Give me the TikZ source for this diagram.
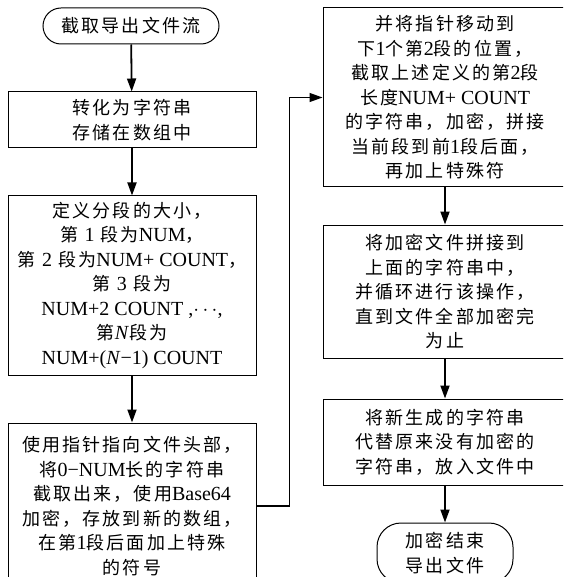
\documentclass[tikz,border=0pt]{standalone}
\usepackage{fontspec}
\setmainfont{Liberation Serif}
\newfontfamily\cjk[LetterSpace=12]{Noto Sans CJK SC}
\newcommand\E[1]{{\rmfamily\fontsize{20}{24.5}\selectfont #1}}
\usetikzlibrary{arrows.meta}
\tikzset{
  txt/.style={font=\fontsize{18}{24.5}\selectfont\cjk, align=center, inner sep=0pt},
  procbox/.style={txt, draw, line width=1pt, rectangle},
  termbox/.style={txt, draw, line width=1pt, rectangle},
  flow/.style={line width=1.8pt, -{Triangle[length=13pt,width=9pt]}},
}
\begin{document}
\begin{tikzpicture}[x=1pt,y=-1pt]
\useasboundingbox (0,0) rectangle (563,577);
\clip (0,0) rectangle (563,577);
% left column
\node[termbox, rounded corners=18pt, minimum width=176pt, minimum height=36pt] (s) at (131,26) {截取导出文件流};
\node[procbox, minimum width=248pt, minimum height=56pt] (b2) at (132,120) {转化为字符串\\存储在数组中};
\node[procbox, minimum width=248pt, minimum height=179pt] (b3) at (132,285.5) {定义分段的大小，\\第 \E{1} 段为\E{NUM}，\\第 \E{2} 段为\E{NUM+ COUNT}，\\第 \E{3} 段为\\\E{NUM+2 COUNT ,$\cdots$,}\\第\E{\textit{N}}段为\\\E{NUM+(\textit{N}−1) COUNT}};
\node[procbox, minimum width=248pt, minimum height=166pt] (b4) at (132,506) {使用指针指向文件头部，\\将\E{0−NUM}长的字符串\\截取出来，使用\E{Base64}\\加密，存放到新的数组，\\在第\E{1}段后面加上特殊\\的符号};
% right column
\node[procbox, minimum width=244pt, minimum height=179pt] (r1) at (445,97.5) {并将指针移动到\\下\E{1}个第\E{2}段的位置，\\截取上述定义的第\E{2}段\\长度\E{NUM+ COUNT}\\的字符串，加密，拼接\\当前段到前\E{1}段后面，\\再加上特殊符};
\node[procbox, minimum width=244pt, minimum height=133pt] (r2) at (445,291.5) {将加密文件拼接到\\上面的字符串中，\\并循环进行该操作，\\直到文件全部加密完\\为止};
\node[procbox, minimum width=244pt, minimum height=86pt] (r3) at (445,442) {将新生成的字符串\\代替原来没有加密的\\字符串，放入文件中};
\node[termbox, rounded corners=24pt, minimum width=136pt, minimum height=60pt] (e) at (445,553) {加密结束\\导出文件};
% connectors
\draw[flow] (s) -- (b2);
\draw[flow] (b2) -- (b3);
\draw[flow] (b3) -- (b4);
\draw[flow] (r1) -- (r2);
\draw[flow] (r2) -- (r3);
\draw[flow] (r3) -- (e);
\draw[flow, line width=1.2pt] (b4.east) -- ++(33,0) |- (r1.west);
\end{tikzpicture}
\end{document}
